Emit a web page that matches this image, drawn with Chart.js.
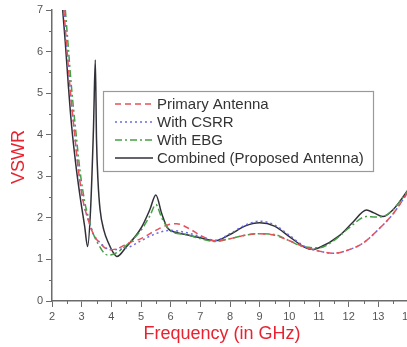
<!DOCTYPE html>
<html>
<head>
<meta charset="utf-8">
<script src="https://cdn.jsdelivr.net/npm/chart.js@4"></script>
<style>
html,body{margin:0;padding:0;background:#fff;overflow:hidden;}
#wrap{width:420px;height:347px;position:relative;}
</style>
</head>
<body>
<div id="wrap"><canvas id="c" width="420" height="347"></canvas></div>
<script>
// Data
const seriesLabels = ["Primary Antenna", "With CSRR", "With EBG", "Combined (Proposed Antenna)"];
const xTickValues = [2,3,4,5,6,7,8,9,10,11,12,13,14];
const yTickValues = [0,1,2,3,4,5,6,7];

const primaryFreq = [2.4,2.5,2.6,2.75,2.9,3.05,3.2,3.4,3.6,3.95,4.2,4.6,5.0,5.5,5.9,6.2,6.6,7.0,7.5,8.0,8.5,9.0,9.5,10.0,10.5,11.0,11.5,12.0,12.5,13.0,13.5,14.0];
const primaryVSWR = [7.0,6.1,5.2,4.1,3.1,2.4,2.0,1.6,1.4,1.23,1.26,1.4,1.5,1.7,1.83,1.86,1.75,1.58,1.45,1.5,1.58,1.62,1.58,1.45,1.3,1.2,1.15,1.23,1.4,1.72,2.1,2.62];

const csrrFreq = [2.4,2.5,2.6,2.75,2.9,3.05,3.2,3.4,3.6,3.95,4.2,4.6,5.0,5.5,6.0,6.5,7.0,7.5,8.0,8.5,9.0,9.5,10.0,10.5,11.0,11.5,12.0,12.5,13.0,13.5,14.0];
const csrrVSWR = [7.0,6.1,5.2,4.1,3.1,2.4,2.0,1.6,1.42,1.24,1.24,1.3,1.45,1.62,1.7,1.65,1.55,1.46,1.62,1.82,1.92,1.83,1.58,1.32,1.2,1.15,1.23,1.4,1.72,2.1,2.62];

const ebgFreq = [2.45,2.55,2.65,2.8,2.95,3.1,3.25,3.4,3.6,3.75,3.9,4.2,4.6,5.0,5.3,5.5,5.7,6.0,6.5,7.0,7.5,8.0,8.5,9.0,9.5,10.0,10.5,11.0,11.5,12.0,12.6,12.9,13.15,13.5,14.0];
const ebgVSWR = [7.0,6.1,5.2,4.1,3.1,2.4,1.95,1.6,1.32,1.16,1.1,1.17,1.4,1.7,2.05,2.32,2.0,1.68,1.6,1.5,1.43,1.5,1.58,1.62,1.6,1.45,1.3,1.28,1.45,1.75,2.03,2.02,2.03,2.2,2.65];

const combinedFreq = [2.36,2.45,2.55,2.65,2.8,2.95,3.1,3.2,3.3,3.4,3.46,3.5,3.55,3.62,3.75,3.9,4.05,4.19,4.5,5.0,5.3,5.5,5.7,5.9,6.2,6.5,7.0,7.5,8.0,8.5,9.0,9.5,10.0,10.5,10.8,11.0,11.7,12.15,12.6,12.85,13.15,13.5,14.0];
const combinedVSWR = [7.0,6.2,5.2,4.3,3.3,2.5,1.8,1.31,2.2,4.2,5.8,3.9,2.9,2.2,1.7,1.4,1.18,1.07,1.3,1.75,2.2,2.55,2.1,1.75,1.65,1.6,1.52,1.45,1.6,1.8,1.88,1.8,1.55,1.3,1.24,1.28,1.58,1.9,2.19,2.12,2.03,2.2,2.67];

function pts(xs, ys){ return xs.map((x,i)=>({x:x, y:ys[i]})); }

const AXIS = '#6b6b6b';
const TICKTXT = '#555555';
const TITLE = '#e8232f';

const overlay = {
  id:'overlay',
  afterDraw(chart){
    const ctx = chart.ctx;
    const xs = chart.scales.x, ys = chart.scales.y;
    ctx.save();
    // minor ticks
    ctx.strokeStyle = AXIS; ctx.lineWidth = 1;
    ctx.beginPath();
    for(let v=2.5; v<14; v+=1){ const px=Math.round(xs.getPixelForValue(v))+0.5; ctx.moveTo(px, ys.bottom); ctx.lineTo(px, ys.bottom+3); }
    for(let v=0.5; v<7; v+=1){ const py=Math.round(ys.getPixelForValue(v))+0.5; ctx.moveTo(xs.left, py); ctx.lineTo(xs.left-3, py); }
    ctx.stroke();
    // axis titles
    ctx.fillStyle = TITLE;
    ctx.font = '18px "Liberation Sans", Arial, sans-serif';
    ctx.textAlign = 'center'; ctx.textBaseline = 'middle';
    ctx.fillText('Frequency (in GHz)', 222, 334);
    ctx.translate(19, 157); ctx.rotate(-Math.PI/2);
    ctx.fillText('VSWR', 0, 0);
    ctx.restore();
    // legend
    ctx.save();
    const bx=103, by=91, bw=270, bh=80;
    ctx.fillStyle='#fff'; ctx.fillRect(bx,by,bw,bh);
    ctx.strokeStyle='#9a9a9a'; ctx.lineWidth=1.2; ctx.strokeRect(bx+0.5,by+0.5,bw,bh);
    ctx.font = '15px "Liberation Sans", Arial, sans-serif';
    ctx.textAlign='left'; ctx.textBaseline='middle';
    chart.data.datasets.forEach((ds,i)=>{
      const y = by + 13 + i*18;
      ctx.strokeStyle = ds.borderColor; ctx.lineWidth = ds.borderWidth;
      ctx.setLineDash(ds.borderDash || []);
      ctx.beginPath(); ctx.moveTo(115,y); ctx.lineTo(153,y); ctx.stroke();
      ctx.setLineDash([]);
      ctx.fillStyle='#333';
      ctx.fillText(ds.label, 157, y+1);
    });
    ctx.restore();
  }
};

const common = {pointRadius:0, borderWidth:1.5, fill:false, cubicInterpolationMode:'monotone'};

new Chart(document.getElementById('c'), {
  type:'line',
  data:{ datasets:[
    Object.assign({label:seriesLabels[0], data:pts(primaryFreq,primaryVSWR), borderColor:'#e8505a', borderDash:[6,4]}, common),
    Object.assign({label:seriesLabels[1], data:pts(csrrFreq,csrrVSWR), borderColor:'#6a6ae6', borderDash:[2,3]}, common),
    Object.assign({label:seriesLabels[2], data:pts(ebgFreq,ebgVSWR), borderColor:'#45a045', borderDash:[7,3,2,3]}, common),
    Object.assign({label:seriesLabels[3], data:pts(combinedFreq,combinedVSWR), borderColor:'#303038'}, common)
  ]},
  options:{
    responsive:false, animation:false, devicePixelRatio:1,
    layout:{padding:{top:10,right:12,left:0,bottom:0}},
    plugins:{legend:{display:false}, tooltip:{enabled:false}},
    scales:{
      x:{type:'linear', min:2, max:14,
        afterBuildTicks:(s)=>{ s.ticks = xTickValues.map(v=>({value:v})); },
        afterFit:(s)=>{ s.height = 46; },
        grid:{drawOnChartArea:false, drawTicks:true, tickLength:6, tickColor:AXIS},
        border:{color:AXIS, width:1.5},
        ticks:{color:TICKTXT, padding:3, font:{size:11, family:'"Liberation Sans", Arial, sans-serif'}, maxRotation:0}
      },
      y:{min:0, max:7,
        afterBuildTicks:(s)=>{ s.ticks = yTickValues.map(v=>({value:v})); },
        afterFit:(s)=>{ s.width = 52; },
        grid:{drawOnChartArea:false, drawTicks:true, tickLength:6, tickColor:AXIS},
        border:{color:AXIS, width:1.5},
        ticks:{color:TICKTXT, padding:3, font:{size:11, family:'"Liberation Sans", Arial, sans-serif'}}
      }
    }
  },
  plugins:[overlay]
});
</script>
</body>
</html>
